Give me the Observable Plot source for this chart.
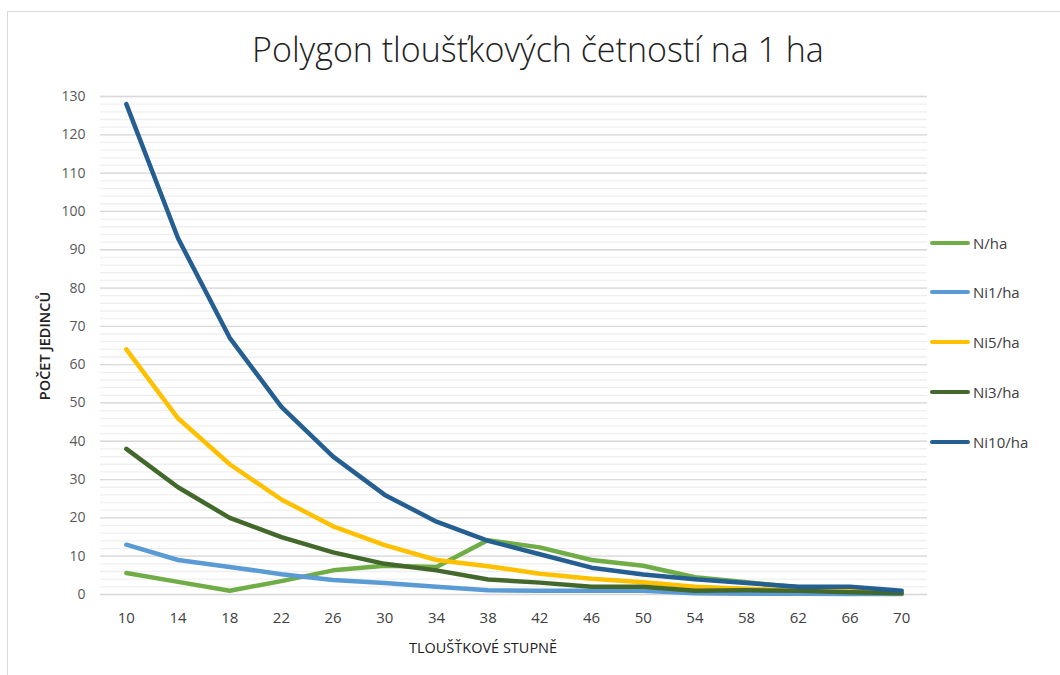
<!DOCTYPE html>
<html>
<head>
<meta charset="utf-8">
<script src="https://cdn.jsdelivr.net/npm/d3@7"></script>
<script src="https://cdn.jsdelivr.net/npm/@observablehq/plot@0.6"></script>
<style>
  html, body { margin: 0; padding: 0; background: #fff; }
  #wrap { position: relative; width: 1060px; height: 675px; overflow: hidden; font-family: "Open Sans", sans-serif; }
  #frame { position: absolute; left: 7px; top: 11px; width: 1070px; height: 700px; border: 1px solid #d9d9d9; box-sizing: border-box; }
  #title { position: absolute; left: 0; width: 1076px; top: 26px; text-align: center; font-size: 34px; font-weight: 300; color: #222; }
  #chart { position: absolute; left: 0; top: 0; }
  #ylab { position: absolute; left: 44px; top: 346px; transform: translate(-50%, -50%) rotate(-90deg); font-size: 14.5px; font-weight: 600; color: #222; white-space: nowrap; }
  #xlab { position: absolute; left: 483px; top: 647px; transform: translate(-50%, -50%); font-size: 14.5px; color: #222; white-space: nowrap; }
  #legend { position: absolute; left: 930px; top: 0; }
  .item { position: absolute; left: 0; height: 20px; display: flex; align-items: center; white-space: nowrap; font-size: 15px; color: #404040; }
  .swatch { width: 40px; height: 4px; border-radius: 2px; margin-right: 3px; }
</style>
</head>
<body>
<div id="wrap">
  <div id="frame"></div>
  <div id="title">Polygon tloušťkových četností na 1 ha</div>
  <div id="chart"></div>
  <div id="ylab">POČET JEDINCŮ</div>
  <div id="xlab">TLOUŠŤKOVÉ STUPNĚ</div>
  <div id="legend"></div>
</div>
<script>
const categories = [10, 14, 18, 22, 26, 30, 34, 38, 42, 46, 50, 54, 58, 62, 66, 70];
const seriesNames = ["N/ha", "Ni1/ha", "Ni5/ha", "Ni3/ha", "Ni10/ha"];
const seriesColors = ["#70AD47", "#5B9BD5", "#FFC000", "#43682B", "#255E91"];
const N_ha   = [5.6, 3.3, 1, 3.5, 6.3, 7.5, 7.2, 14.2, 12.3, 9, 7.5, 4.5, 3.2, 1.9, 1, 0.6];
const Ni1_ha = [13, 9, 7.2, 5.3, 3.8, 3, 2, 1.1, 1, 1, 1, 0.3, 0.2, 0.2, 0.1, 0.1];
const Ni5_ha = [64, 46, 34, 24.8, 17.8, 12.9, 9, 7.4, 5.4, 4.1, 3.2, 2, 1.5, 1, 1, 0.4];
const Ni3_ha = [38, 28, 20, 15, 11, 8, 6.3, 3.9, 3.1, 2, 2, 1, 1.1, 1, 0.6, 0.3];
const Ni10_ha = [128, 93, 67, 49, 36, 26, 19, 14, 10.5, 7, 5.2, 4, 3, 2, 2, 1];
const yMajorTicks = [0, 10, 20, 30, 40, 50, 60, 70, 80, 90, 100, 110, 120, 130];
const yMinorTicks = d3.range(0, 131, 2);

const seriesValues = [N_ha, Ni1_ha, Ni5_ha, Ni3_ha, Ni10_ha];
const rows = [];
seriesNames.forEach((name, i) => {
  categories.forEach((c, j) => rows.push({series: name, x: String(c), y: seriesValues[i][j]}));
});

const chart = Plot.plot({
  width: 1060,
  height: 675,
  marginLeft: 100,
  marginRight: 133,
  marginTop: 96,
  marginBottom: 81,
  style: {background: "transparent", fontFamily: "Open Sans, sans-serif"},
  x: {type: "point", domain: categories.map(String), padding: 0.5, round: false, label: null, tickSize: 0, tickPadding: 18},
  y: {domain: [0, 130], label: null, ticks: yMajorTicks, tickSize: 0, tickPadding: 15},
  color: {domain: seriesNames, range: seriesColors},
  marks: [
    Plot.ruleY(yMinorTicks, {stroke: "#efefef", strokeWidth: 1.3}),
    Plot.ruleY(yMajorTicks, {stroke: "#d9d9d9", strokeWidth: 1.3}),
    Plot.line(rows, {x: "x", y: "y", z: "series", stroke: "series", strokeWidth: 4.5, strokeLinejoin: "round", strokeLinecap: "round"})
  ]
});
chart.querySelectorAll("g[aria-label='y-axis tick label'] text, g[aria-label='y-axis'] text").forEach(t => { t.style.fontSize = "14px"; t.style.fill = "#595959"; });
chart.querySelectorAll("g[aria-label='x-axis tick label'] text, g[aria-label='x-axis'] text").forEach(t => { t.style.fontSize = "15px"; t.style.fill = "#404040"; });
chart.querySelectorAll("g[aria-label='y-axis tick label'], g[aria-label='x-axis tick label']").forEach(g => { g.setAttribute("font-size", g.getAttribute("aria-label").startsWith("y") ? 14 : 15); });
document.getElementById("chart").appendChild(chart);

const legendY = [243, 292, 342, 392, 442];
const legend = document.getElementById("legend");
seriesNames.forEach((name, i) => {
  const item = document.createElement("div");
  item.className = "item";
  item.style.top = (legendY[i] - 10) + "px";
  const sw = document.createElement("div");
  sw.className = "swatch";
  sw.style.background = seriesColors[i];
  item.appendChild(sw);
  item.appendChild(document.createTextNode(name));
  legend.appendChild(item);
});
</script>
</body>
</html>
